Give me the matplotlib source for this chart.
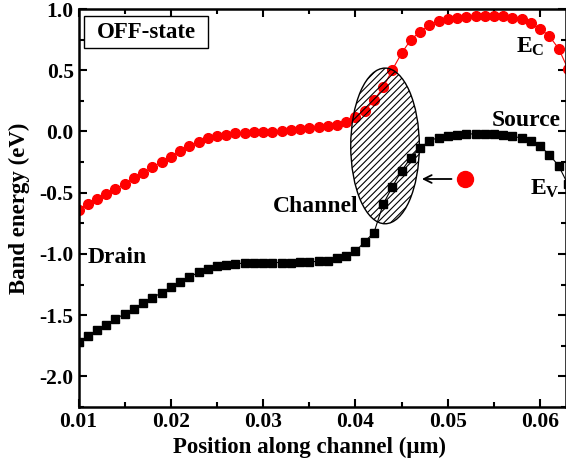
import matplotlib
matplotlib.use('Agg')
import matplotlib.pyplot as plt
from matplotlib.patches import Ellipse, Rectangle

# band diagram data
position = [0.010, 0.011, 0.012, 0.013, 0.014, 0.015, 0.016, 0.017, 0.018, 0.019,
            0.020, 0.021, 0.022, 0.023, 0.024, 0.025, 0.026, 0.027, 0.028, 0.029,
            0.030, 0.031, 0.032, 0.033, 0.034, 0.035, 0.036, 0.037, 0.038, 0.039,
            0.040, 0.041, 0.042, 0.043, 0.044, 0.045, 0.046, 0.047, 0.048, 0.049,
            0.050, 0.051, 0.052, 0.053, 0.054, 0.055, 0.056, 0.057, 0.058, 0.059,
            0.060, 0.061, 0.062, 0.063]

Ec = [-0.64, -0.59, -0.55, -0.51, -0.47, -0.43, -0.38, -0.34, -0.29, -0.25,
      -0.205, -0.16, -0.12, -0.088, -0.057, -0.035, -0.025, -0.016, -0.011, -0.008,
      -0.005, -0.003, 0.005, 0.01, 0.02, 0.03, 0.035, 0.045, 0.055, 0.075,
      0.115, 0.17, 0.255, 0.36, 0.505, 0.64, 0.75, 0.815, 0.87, 0.90,
      0.92, 0.93, 0.937, 0.943, 0.943, 0.943, 0.94, 0.93, 0.915, 0.882,
      0.838, 0.778, 0.677, 0.513]

Ev = [-1.72, -1.67, -1.62, -1.58, -1.53, -1.49, -1.45, -1.40, -1.36, -1.315,
      -1.27, -1.23, -1.19, -1.15, -1.12, -1.10, -1.09, -1.08, -1.075, -1.07,
      -1.07, -1.07, -1.07, -1.07, -1.068, -1.065, -1.06, -1.055, -1.035, -1.014,
      -0.98, -0.90, -0.826, -0.594, -0.45, -0.32, -0.214, -0.137, -0.075, -0.05,
      -0.033, -0.025, -0.02, -0.02, -0.02, -0.02, -0.027, -0.038, -0.055, -0.08,
      -0.12, -0.19, -0.28, -0.43]

xticks = [0.01, 0.02, 0.03, 0.04, 0.05, 0.06]
xticklabels = ['0.01', '0.02', '0.03', '0.04', '0.05', '0.06']
yticks = [-2.0, -1.5, -1.0, -0.5, 0.0, 0.5, 1.0]
yticklabels = ['-2.0', '-1.5', '-1.0', '-0.5', '0.0', '0.5', '1.0']

plt.rcParams['font.family'] = ['Liberation Serif', 'DejaVu Serif']
plt.rcParams['font.weight'] = 'bold'
plt.rcParams['mathtext.fontset'] = 'custom'
plt.rcParams['mathtext.rm'] = 'Liberation Serif:bold'
plt.rcParams['mathtext.it'] = 'Liberation Serif:bold'
plt.rcParams['mathtext.bf'] = 'Liberation Serif:bold'
plt.rcParams['hatch.linewidth'] = 0.8

fig = plt.figure(figsize=(5.66, 4.65), dpi=100)
ax = fig.add_axes([0.1387, 0.1247, 0.8613, 0.8559])

ax.plot(position, Ec, '-o', color='red', ms=7, lw=0.8)
ax.plot(position, Ev, '-s', color='black', ms=5.6, lw=0.8)

# hatched channel region
ax.add_patch(Ellipse((0.0432, -0.118), 0.00743, 1.271, facecolor='none',
                     edgecolor='black', hatch='/////', lw=1.0, zorder=5))

# electron and arrow
ax.plot([0.05186], [-0.388], 'o', color='red', ms=11.5)
ax.annotate('', xy=(0.04689, -0.388), xytext=(0.0507, -0.388),
            arrowprops=dict(arrowstyle='->', lw=1.3, color='black', mutation_scale=14))

ax.text(0.0574, 0.64, 'E$_\\mathrm{C}$', fontsize=17, va='baseline')
ax.text(0.0547, 0.045, 'Source', fontsize=17, va='baseline')
ax.text(0.0589, -0.518, 'E$_\\mathrm{V}$', fontsize=17, va='baseline')
ax.text(0.0403, -0.657, 'Channel', fontsize=17, va='baseline', ha='right')
ax.text(0.0110, -1.073, 'Drain', fontsize=17, va='baseline')

# OFF-state box
ax.add_patch(Rectangle((0.0113, 0.902), 0.254, 0.0804, transform=ax.transAxes,
                       facecolor='white', edgecolor='black', lw=1.0, zorder=6))
ax.text(0.1385, 0.942, 'OFF-state', transform=ax.transAxes, fontsize=16.5,
        ha='center', va='center', zorder=7)

ax.set_xlim(0.01, 0.0628)
ax.set_ylim(-2.25, 1.0)
ax.set_xticks(xticks)
ax.set_xticklabels(xticklabels)
ax.set_yticks(yticks)
ax.set_yticklabels(yticklabels)
ax.set_xticks([0.015, 0.025, 0.035, 0.045, 0.055], minor=True)
ax.set_yticks([-2.25, -1.75, -1.25, -0.75, -0.25, 0.25, 0.75], minor=True)
ax.tick_params(which='both', direction='in', top=True, right=True, width=1.5, labelsize=15.5)
ax.tick_params(which='major', length=6)
ax.tick_params(which='minor', length=3.5)
for s in ax.spines.values():
    s.set_linewidth(1.8)

ax.set_xlabel('Position along channel (\u03bcm)', fontsize=16.5, fontweight='bold')
ax.set_ylabel('Band energy (eV)', fontsize=16.5, fontweight='bold')
ax.xaxis.set_label_coords(0.474, -0.075)
ax.yaxis.set_label_coords(-0.10, 0.5)

fig.savefig('out.png', dpi=100)
